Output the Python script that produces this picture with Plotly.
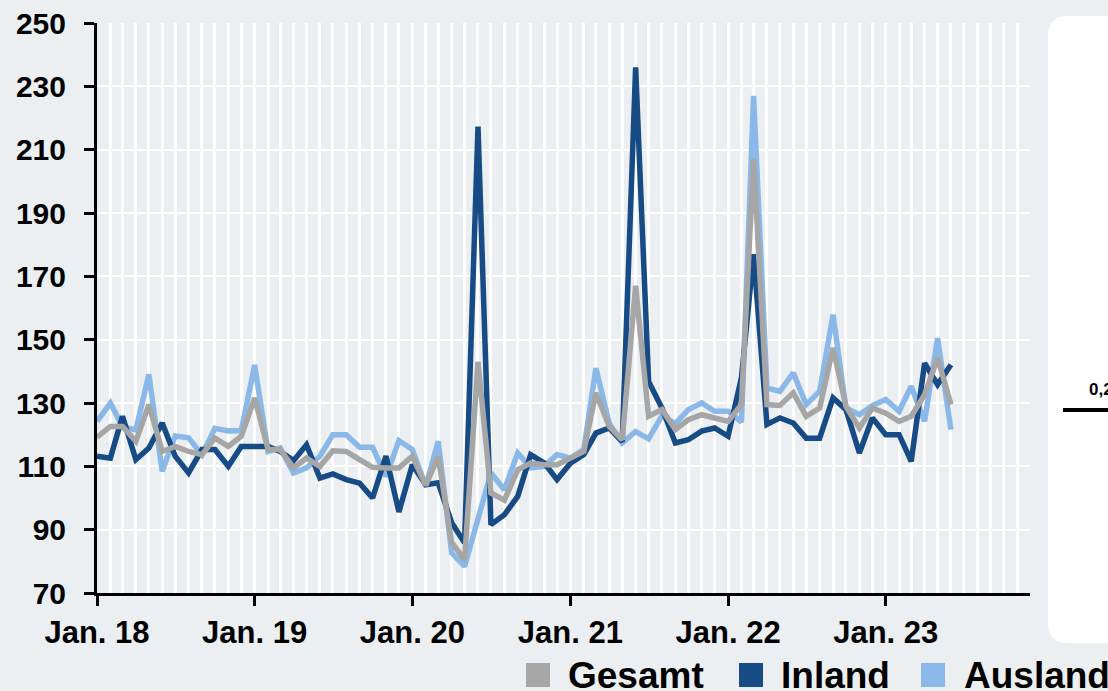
import pandas as pd
import plotly.graph_objects as go

# monthly index values, Jan 2018 - Jun 2023
months = pd.date_range("2018-01-01", periods=66, freq="MS")

gesamt = [
    119.2, 122.6, 122.6, 117.9, 129.5, 114.7, 116.3, 114.7, 113.7, 118.9, 116.3, 119.5,
    131.6, 115.3, 115.3, 109.5, 112.6, 110.0, 114.9, 114.7, 112.1, 109.7, 109.5, 109.5,
    113.2, 104.0, 113.1, 86.0, 80.5, 143.0, 101.6, 99.3, 108.9, 111.0, 110.5, 110.5,
    112.6, 114.7, 133.2, 122.6, 118.4, 167.0, 125.8, 127.9, 121.6, 124.7, 126.3, 125.3,
    124.2, 129.5, 207.0, 129.5, 129.2, 133.2, 125.8, 128.4, 147.4, 128.9, 122.1, 128.4,
    126.8, 124.2, 125.8, 132.6, 144.2, 129.5,
]
inland = [
    113.2, 112.6, 125.8, 112.1, 115.8, 123.7, 113.2, 107.9, 115.3, 115.3, 110.0, 116.3,
    116.3, 116.3, 114.7, 111.8, 116.8, 106.3, 107.6, 105.8, 104.7, 100.0, 113.2, 95.6,
    110.5, 104.2, 104.8, 92.2, 85.9, 217.3, 91.6, 94.7, 100.5, 113.7, 111.1, 105.8,
    111.0, 113.7, 120.5, 122.1, 117.8, 236.0, 136.8, 128.4, 117.4, 118.4, 121.1, 122.1,
    119.5, 138.0, 177.0, 123.2, 125.3, 123.7, 118.9, 118.9, 131.6, 127.9, 114.2, 125.3,
    120.0, 120.0, 111.6, 142.6, 135.8, 142.1,
]
ausland = [
    124.2, 130.0, 122.5, 121.5, 139.0, 108.4, 119.6, 119.0, 113.7, 122.0, 121.2, 121.3,
    142.0, 114.7, 115.8, 107.9, 109.5, 113.2, 120.0, 120.0, 116.0, 116.0, 106.8, 118.1,
    115.3, 103.7, 117.9, 82.7, 78.4, 93.0, 107.9, 102.6, 114.2, 109.5, 110.0, 113.7,
    112.6, 115.3, 141.0, 123.5, 117.4, 121.0, 118.7, 126.0, 123.5, 127.9, 130.0, 127.4,
    127.4, 124.0, 227.0, 134.7, 133.7, 139.5, 129.5, 133.7, 157.9, 128.4, 126.3, 129.2,
    131.1, 127.4, 135.3, 124.2, 150.5, 121.6,
]

year_ticks = ["2018-01-01", "2019-01-01", "2020-01-01", "2021-01-01", "2022-01-01", "2023-01-01"]
year_labels = ["Jan. 18", "Jan. 19", "Jan. 20", "Jan. 21", "Jan. 22", "Jan. 23"]

series = [
    ("Ausland", ausland, "#8AB8E9"),
    ("Inland", inland, "#174B86"),
    ("Gesamt", gesamt, "#A6A6A6"),
]

bg = "#ECEFF1"
font = "Liberation Sans"

fig = go.Figure()
for name, vals, col in series:
    fig.add_trace(go.Scatter(
        x = months, y = vals, name = name, mode = "lines",
        line = dict(color = col, width = 5.5),
        showlegend = False
    ))

# plot area spans 97..1030 px horizontally, 23..593 px vertically
def px_x(p):
    return (p - 97) / 933

def px_y(p):
    return (593 - p) / 570

shapes = []
annotations = []

# legend (drawn by hand, squares + labels)
legend_items = [("Gesamt", "#A6A6A6", 526, 566), ("Inland", "#174B86", 739, 779), ("Ausland", "#8AB8E9", 921, 962)]
for label, col, sx, tx in legend_items:
    shapes.append(dict(
        type = "rect", xref = "paper", yref = "paper",
        x0 = px_x(sx), x1 = px_x(sx + 24), y0 = px_y(663), y1 = px_y(687),
        fillcolor = col, line_width = 0
    ))
    annotations.append(dict(
        text = label, xref = "paper", yref = "paper",
        x = px_x(tx), y = px_y(675.5), xanchor = "left", yanchor = "middle",
        showarrow = False, font = dict(family = font, size = 37, color = "black", weight = "bold")
    ))

# white rounded panel of the neighbouring chart on the right
r = 20
x0, x1, y0, y1 = 1048, 1140, 16, 643
path = (
    f"M {px_x(x0 + r)} {px_y(y0)} L {px_x(x1)} {px_y(y0)} L {px_x(x1)} {px_y(y1)} "
    f"L {px_x(x0 + r)} {px_y(y1)} Q {px_x(x0)} {px_y(y1)} {px_x(x0)} {px_y(y1 - r)} "
    f"L {px_x(x0)} {px_y(y0 + r)} Q {px_x(x0)} {px_y(y0)} {px_x(x0 + r)} {px_y(y0)} Z"
)
shapes.append(dict(
    type = "path", xref = "paper", yref = "paper", path = path,
    fillcolor = "white", line_width = 0, layer = "below"
))
shapes.append(dict(
    type = "line", xref = "paper", yref = "paper",
    x0 = px_x(1063), x1 = px_x(1120), y0 = px_y(410), y1 = px_y(410),
    line = dict(color = "black", width = 4)
))
annotations.append(dict(
    text = "0,2", xref = "paper", yref = "paper",
    x = px_x(1087), y = px_y(389), xanchor = "left", yanchor = "middle",
    showarrow = False, font = dict(family = font, size = 17, color = "black", weight = "bold")
))

fig.update_layout(
    width = 1108, height = 691,
    paper_bgcolor = bg, plot_bgcolor = bg,
    margin = dict(l = 97, r = 78, t = 23, b = 98, autoexpand = False),
    shapes = shapes, annotations = annotations,
    showlegend = False
)
fig.update_xaxes(
    type = "date", range = ["2018-01-01", "2023-12-01"],
    tickvals = year_ticks, ticktext = year_labels,
    ticks = "outside", ticklen = 10, tickwidth = 3, tickcolor = "black",
    showline = True, linecolor = "black", linewidth = 3,
    showgrid = True, gridcolor = "white", gridwidth = 2.5,
    minor = dict(dtick = "M1", tick0 = "2018-01-01", showgrid = True,
                 gridcolor = "white", gridwidth = 2.5, ticks = ""),
    tickfont = dict(family = font, size = 31, color = "black", weight = "bold"),
    automargin = False, zeroline = False
)
fig.update_yaxes(
    range = [70, 250], tick0 = 70, dtick = 20,
    ticks = "outside", ticklen = 10, tickwidth = 3, tickcolor = "black",
    showline = True, linecolor = "black", linewidth = 3,
    showgrid = True, gridcolor = "white", gridwidth = 1.5,
    tickfont = dict(family = font, size = 30, color = "black", weight = "bold"),
    ticklabelstandoff = 12,
    automargin = False, zeroline = False
)

# page body has a default 8px margin; drop it so the figure fills the window
fig.write_html(
    "out.html",
    config = {"displayModeBar": False},
    post_script = "document.body.style.margin='0';document.body.style.background='" + bg + "';"
)
